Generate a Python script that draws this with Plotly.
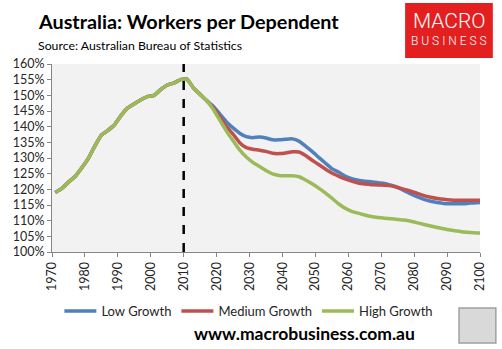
import plotly.graph_objects as go

# Historical (shared by all scenarios)
hist_years = [1971, 1973, 1975, 1977, 1979, 1981, 1983, 1985, 1987, 1989, 1991, 1993, 1995,
              1997, 1999, 2001, 2003, 2005, 2007, 2009, 2011, 2013, 2015, 2017]
hist_vals = [119.0, 120.3, 122.3, 124.1, 126.8, 129.8, 133.8, 137.3, 138.8, 140.6, 143.6, 146.0, 147.3,
             148.6, 149.6, 150.0, 151.8, 153.3, 153.9, 155.0, 155.2, 152.3, 150.3, 148.3]

proj_years = [2019, 2021, 2023, 2025, 2027, 2029, 2031, 2033, 2035, 2037, 2039, 2041, 2043, 2045,
              2047, 2049, 2051, 2053, 2055, 2057, 2059, 2061, 2063, 2065, 2067, 2069, 2071, 2073,
              2075, 2077, 2079, 2081, 2083, 2085, 2087, 2089, 2091, 2093, 2095, 2097, 2099, 2100]
low_proj = [146.5, 144.0, 141.5, 139.6, 137.9, 136.8, 136.5, 136.7, 136.4, 135.8, 135.8, 136.0, 136.1, 135.4,
            133.8, 132.1, 130.2, 128.4, 126.6, 125.5, 124.2, 123.4, 122.9, 122.6, 122.4, 122.1, 121.9, 121.3,
            120.6, 119.6, 118.5, 117.6, 116.8, 116.2, 115.8, 115.5, 115.4, 115.4, 115.4, 115.6, 115.7, 115.8]
med_proj = [146.0, 143.0, 140.0, 137.6, 134.9, 133.3, 132.8, 132.5, 132.1, 131.5, 131.4, 131.6, 132.0, 131.9,
            130.8, 129.3, 127.9, 126.5, 125.2, 124.2, 123.3, 122.6, 122.0, 121.7, 121.5, 121.4, 121.3, 121.1,
            120.6, 120.0, 119.4, 118.7, 118.0, 117.5, 117.1, 116.8, 116.6, 116.5, 116.5, 116.5, 116.5, 116.5]
high_proj = [145.5, 142.0, 138.6, 135.5, 132.6, 130.3, 128.6, 127.3, 126.0, 124.9, 124.4, 124.3, 124.3, 124.0,
             123.0, 121.8, 120.4, 118.9, 117.2, 115.4, 114.0, 113.0, 112.4, 111.8, 111.3, 111.0, 110.8, 110.6,
             110.4, 110.2, 109.8, 109.3, 108.8, 108.3, 107.8, 107.4, 107.0, 106.7, 106.4, 106.2, 106.1, 106.1]

series_names = ["Low Growth", "Medium Growth", "High Growth"]
series_colors = ["#4F81BD", "#C0504D", "#9BBB59"]
series_proj = [low_proj, med_proj, high_proj]
divider_year = 2010

x_ticks = list(range(1970, 2101, 10))

fig = go.Figure()
for name, color, proj in zip(series_names, series_colors, series_proj):
    fig.add_trace(go.Scatter(
        x=hist_years + proj_years, y=hist_vals + proj, mode="lines", name=name,
        line=dict(color=color, width=3.5, shape="spline", smoothing=0.4),
    ))

fig.add_shape(type="line", xref="x", yref="paper", x0=divider_year, x1=divider_year, y0=0, y1=1,
              line=dict(color="black", width=2.5, dash="dash"), layer="above")

# logo block
fig.add_shape(type="rect", xref="paper", yref="paper", x0=0.825, x1=1.030, y0=1.032, y1=1.324,
              fillcolor="#E3201F", line=dict(width=0), layer="above")
fig.add_shape(type="rect", xref="paper", yref="paper", x0=0.951, x1=1.037, y0=-0.484, y1=-0.298,
              fillcolor="#D9D9D9", line=dict(color="#A0A0A0", width=1.5), layer="above")

font_main = "Lato, 'Open Sans', sans-serif"
fig.update_layout(
    width=502, height=349,
    margin=dict(l=52, r=22, t=64, b=97),
    paper_bgcolor="white", plot_bgcolor="#F2F2F2",
    font=dict(family=font_main, color="#262626", size=12),
    showlegend=True,
    legend=dict(orientation="h", x=0.46, xanchor="center", y=-0.314, yanchor="middle",
                font=dict(size=13, color="#262626"), bgcolor="rgba(0,0,0,0)",
                itemwidth=32, tracegroupgap=0),
    xaxis=dict(range=[1970, 2100], tickmode="array", tickvals=x_ticks, tickangle=-90,
               showgrid=False, zeroline=False, showline=True, linecolor="#868686", linewidth=1,
               ticks="outside", ticklen=4, tickcolor="#868686", tickfont=dict(size=12.5)),
    yaxis=dict(range=[100, 160], dtick=5, ticksuffix="%", showgrid=False, zeroline=False,
               showline=True, linecolor="#868686", linewidth=1, ticks="outside", ticklen=4,
               tickcolor="#868686", tickfont=dict(size=12.5)),
    annotations=[
        dict(text="<b>Australia: Workers per Dependent</b>", xref="paper", yref="paper",
             x=-0.037, y=1.229, xanchor="left", yanchor="middle", showarrow=False,
             font=dict(size=19.8, color="black")),
        dict(text="Source: Australian Bureau of Statistics", xref="paper", yref="paper",
             x=-0.037, y=1.101, xanchor="left", yanchor="middle", showarrow=False,
             font=dict(size=12.3, color="black")),
        dict(text="MACRO", xref="paper", yref="paper", x=0.9276, y=1.228, xanchor="center",
             yanchor="middle", showarrow=False,
             font=dict(size=21, color="white", family="Roboto", weight=300)),
        dict(text="B U S I N E S S", xref="paper", yref="paper", x=0.9276, y=1.12, xanchor="center",
             yanchor="middle", showarrow=False,
             font=dict(size=12, color="white", family="Roboto", weight=300)),
        dict(text="<b>www.macrobusiness.com.au</b>", xref="paper", yref="paper", x=0.591, y=-0.436,
             xanchor="center", yanchor="middle", showarrow=False, font=dict(size=17.5, color="black")),
    ],
)

fig.write_html("out.html")
